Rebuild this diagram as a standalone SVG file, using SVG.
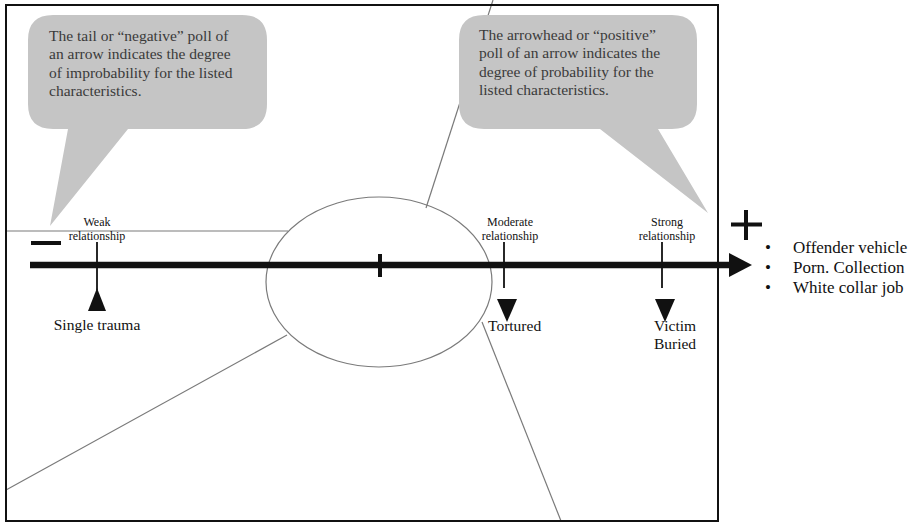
<svg xmlns="http://www.w3.org/2000/svg" width="913" height="526" viewBox="0 0 913 526">
<style>
.bubble{fill:#c5c5c5;stroke:none}
.btxt{font-family:"Liberation Serif","Times New Roman",serif;font-size:15.5px;fill:#3a3a3a}
.thin{stroke:#7a7a7a;stroke-width:1.2;fill:none}
.lbl{font-family:"Liberation Serif","Times New Roman",serif;font-size:12px;fill:#111;text-anchor:middle}
.item{font-family:"Liberation Serif","Times New Roman",serif;font-size:15.5px;fill:#111}
.list{font-family:"Liberation Serif","Times New Roman",serif;font-size:17px;fill:#111}
.tick{stroke:#111;stroke-width:1.8}
.tri{fill:#111}
</style>
<rect x="0" y="0" width="913" height="526" fill="#fff"/>
<g id="connectors">
<line class="thin" x1="493" y1="0" x2="426" y2="208"/>
<line class="thin" x1="6" y1="231" x2="288" y2="231"/>
<line class="thin" x1="287" y1="335" x2="6" y2="490"/>
<line class="thin" x1="482" y1="322" x2="561" y2="521"/>
</g>
<rect id="frame" x="6" y="5" width="712" height="516" fill="none" stroke="#111" stroke-width="2"/>
<g id="callout-negative">
<path class="bubble" d="M53,15 H242 Q267,15 267,40 V104 Q267,129 242,129 H128 L50,226 L68,129 H53 Q28,129 28,104 V40 Q28,15 53,15 Z"/>
<text class="btxt" x="49" y="40.5">The tail or “negative” poll of</text>
<text class="btxt" x="49" y="59">an arrow indicates the degree</text>
<text class="btxt" x="49" y="77.5">of improbability for the listed</text>
<text class="btxt" x="49" y="96">characteristics.</text>
</g>
<g id="callout-positive">
<path class="bubble" d="M484,15 H672 Q697,15 697,40 V104 Q697,129 672,129 H658 L708,213 L600,129 H484 Q459,129 459,104 V40 Q459,15 484,15 Z"/>
<text class="btxt" x="479" y="39.5">The arrowhead or “positive”</text>
<text class="btxt" x="479" y="58">poll of an arrow indicates the</text>
<text class="btxt" x="479" y="76.5">degree of probability for the</text>
<text class="btxt" x="479" y="95">listed characteristics.</text>
</g>
<g id="ellipse">
<ellipse cx="379" cy="282" rx="113" ry="85" fill="none" stroke="#7a7a7a" stroke-width="1.2"/>
</g>
<g id="main-arrow">
<line x1="30" y1="265" x2="731" y2="265" stroke="#111" stroke-width="6.5"/>
<polygon points="729,253 752,265 729,277" fill="#111"/>
<rect x="378" y="254" width="4" height="23" fill="#111"/>
</g>
<g id="minus">
<rect x="31" y="241" width="30" height="4" fill="#111"/>
</g>
<g id="plus">
<rect x="731" y="222.5" width="31" height="4" fill="#111"/>
<rect x="744" y="210" width="4" height="30" fill="#111"/>
</g>
<g id="weak">
<text class="lbl" x="97" y="226">Weak</text>
<text class="lbl" x="97" y="240">relationship</text>
<line class="tick" x1="97" y1="242" x2="97" y2="290"/>
<polygon class="tri" points="97,288 106,311 88,311"/>
<text class="item" x="97" y="330" text-anchor="middle">Single trauma</text>
</g>
<g id="moderate">
<text class="lbl" x="510" y="226">Moderate</text>
<text class="lbl" x="510" y="240">relationship</text>
<line class="tick" x1="504" y1="242" x2="504" y2="288"/>
<polygon class="tri" points="497,299 517,299 507,322"/>
<text class="item" x="488" y="330.5">Tortured</text>
</g>
<g id="strong">
<text class="lbl" x="667" y="226">Strong</text>
<text class="lbl" x="667" y="240">relationship</text>
<line class="tick" x1="662" y1="242" x2="662" y2="288"/>
<polygon class="tri" points="655,299 675,299 665,322"/>
<text class="item" x="675" y="330.5" text-anchor="middle">Victim</text>
<text class="item" x="675" y="348.5" text-anchor="middle">Buried</text>
</g>
<g id="list">
<text class="list" x="765" y="253">•</text>
<text class="list" x="793" y="253">Offender vehicle</text>
<text class="list" x="765" y="273">•</text>
<text class="list" x="793" y="273">Porn. Collection</text>
<text class="list" x="765" y="293">•</text>
<text class="list" x="793" y="293">White collar job</text>
</g>
</svg>
